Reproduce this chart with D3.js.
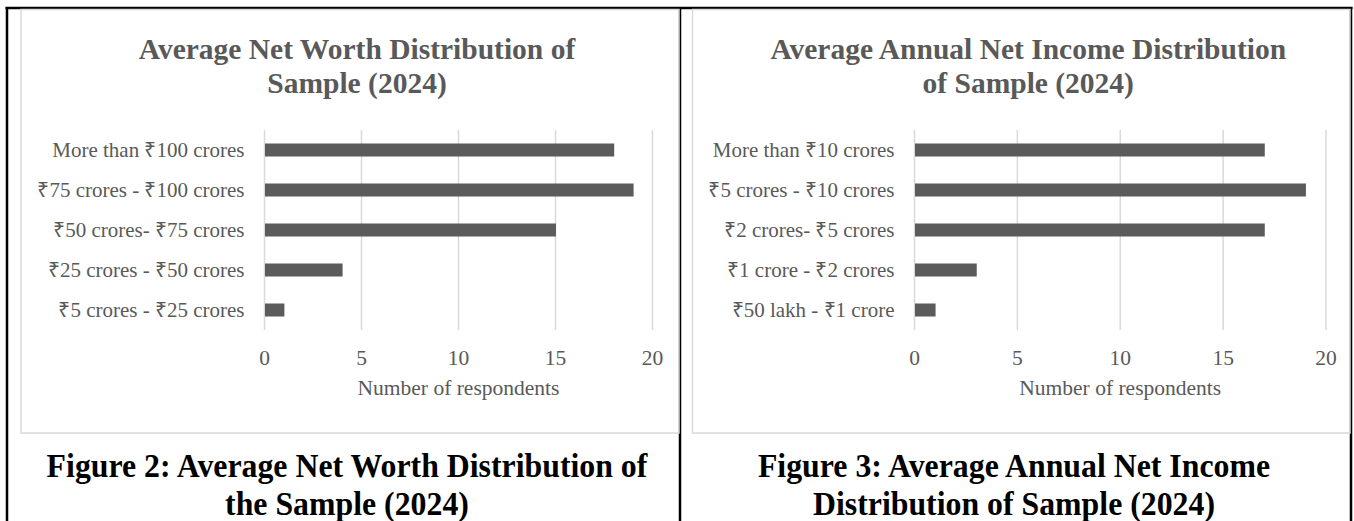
<!DOCTYPE html>
<html>
<head>
<meta charset="utf-8">
<script src="https://cdn.jsdelivr.net/npm/d3@7"></script>
<style>
  body { margin: 0; background: #fff; }
</style>
</head>
<body>
<svg width="1354" height="521" font-family="Liberation Serif, Times New Roman, serif"></svg>
<script>
// ---- data ----
var worthCats = ["More than ₹100 crores", "₹75 crores - ₹100 crores", "₹50 crores- ₹75 crores",
                 "₹25 crores - ₹50 crores", "₹5 crores - ₹25 crores"];
var worthVals = [18, 19, 15, 4, 1];

var incomeCats = ["More than ₹10 crores", "₹5 crores - ₹10 crores", "₹2 crores- ₹5 crores",
                  "₹1 crore - ₹2 crores", "₹50 lakh - ₹1 crore"];
var incomeVals = [17, 19, 17, 3, 1];

var xTicks = [0, 5, 10, 15, 20];
var worthTitle = ["Average Net Worth Distribution of", "Sample (2024)"];
var incomeTitle = ["Average Annual Net Income Distribution", "of Sample (2024)"];
var worthCaption = ["Figure 2: Average Net Worth Distribution of", "the Sample (2024)"];
var incomeCaption = ["Figure 3: Average Annual Net Income", "Distribution of Sample (2024)"];
var axisTitle = "Number of respondents";

var svg = d3.select('svg');

// table lines
svg.append('g').attr('stroke', '#000').attr('stroke-width', 2.5).selectAll('line')
  .data([[5.5, 8, 1352.5, 8], [7, 7, 7, 521], [680, 8, 680, 521], [1351, 7, 1351, 521]])
  .enter().append('line')
  .attr('x1', function(d) { return d[0]; }).attr('y1', function(d) { return d[1]; })
  .attr('x2', function(d) { return d[2]; }).attr('y2', function(d) { return d[3]; });

function drawChart(box, plot, cats, vals, title, caption, capX) {
  var g = svg.append('g');

  g.append('rect')
    .attr('x', box.x).attr('y', box.y).attr('width', box.w).attr('height', box.h)
    .attr('fill', 'none').attr('stroke', '#d9d9d9').attr('stroke-width', 1.5);

  var x = d3.scaleLinear().domain([0, 20]).range([plot.x0, plot.x1]);
  var y = d3.scaleBand().domain(cats).range([130, 330]).paddingInner(0.675).paddingOuter(0.3375);

  g.selectAll('.grid').data(xTicks).enter().append('line')
    .attr('class', 'grid')
    .attr('x1', function(d) { return x(d); }).attr('x2', function(d) { return x(d); })
    .attr('y1', 130).attr('y2', 330)
    .attr('stroke', '#d9d9d9').attr('stroke-width', 1.5);

  g.selectAll('.bar').data(vals).enter().append('rect')
    .attr('class', 'bar')
    .attr('x', x(0) + 0.5)
    .attr('y', function(d, i) { return y(cats[i]); })
    .attr('width', function(d) { return x(d) - x(0); })
    .attr('height', y.bandwidth())
    .attr('fill', '#5b5b5b');

  g.selectAll('.cat').data(cats).enter().append('text')
    .attr('class', 'cat')
    .attr('x', plot.x0 - 20)
    .attr('y', function(d) { return y(d) + y.bandwidth() / 2 + 7; })
    .attr('text-anchor', 'end')
    .attr('fill', '#595959')
    .attr('font-size', 21)
    .text(function(d) { return d; });

  g.selectAll('.tick').data(xTicks).enter().append('text')
    .attr('class', 'tick')
    .attr('x', function(d) { return x(d); })
    .attr('y', 364.5)
    .attr('text-anchor', 'middle')
    .attr('fill', '#595959')
    .attr('font-size', 21.5)
    .text(function(d) { return d; });

  g.append('text')
    .attr('x', (plot.x0 + plot.x1) / 2).attr('y', 395)
    .attr('text-anchor', 'middle').attr('fill', '#595959')
    .attr('font-size', 21.5)
    .text(axisTitle);

  g.selectAll('.title').data(title).enter().append('text')
    .attr('class', 'title')
    .attr('x', box.x + box.w / 2 + 7)
    .attr('y', function(d, i) { return 59 + i * 34; })
    .attr('text-anchor', 'middle').attr('fill', '#595959')
    .attr('font-size', 29.5).attr('font-weight', 'bold')
    .text(function(d) { return d; });

  // caption glyphs in the reference are a bit narrower than Liberation Serif
  g.selectAll('.caption').data(caption).enter().append('text')
    .attr('class', 'caption')
    .attr('transform', function(d, i) { return 'translate(' + capX + ',' + (477 + i * 38) + ') scale(0.95,1)'; })
    .attr('text-anchor', 'middle').attr('fill', '#000')
    .attr('font-size', 33.5).attr('font-weight', 'bold')
    .text(function(d) { return d; });
}

drawChart({x: 21, y: 9.5, w: 658, h: 423.5}, {x0: 264.5, x1: 652.5},
  worthCats, worthVals, worthTitle, worthCaption, 347);
drawChart({x: 692.5, y: 9.5, w: 657.5, h: 423.5}, {x0: 914.5, x1: 1326},
  incomeCats, incomeVals, incomeTitle, incomeCaption, 1014);
</script>
</body>
</html>
